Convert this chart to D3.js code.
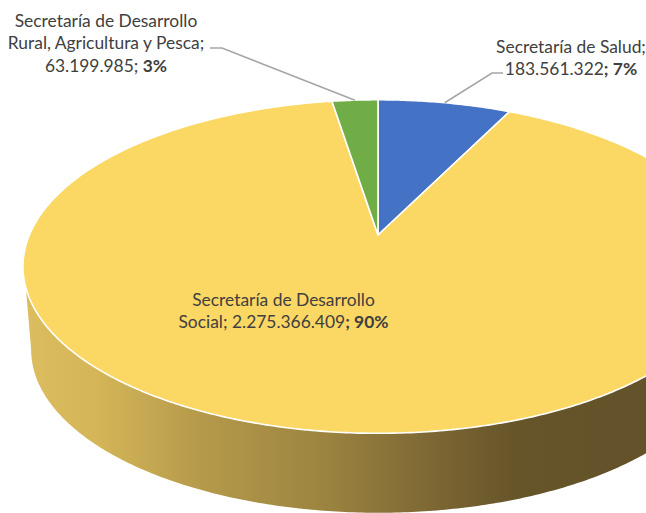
<!DOCTYPE html>
<html>
<head>
<meta charset="utf-8">
<style>
	html, body { margin: 0; padding: 0; background: #fff; overflow: hidden; }
	svg { display: block; }
	text { font-family: Lato, "Open Sans", sans-serif; font-size: 17.4px; fill: #404040; }
</style>
</head>
<body>
<div id="chart"></div>
<script src="https://cdn.jsdelivr.net/npm/d3@7"></script>
<script>
const categories = ["Secretaría de Salud", "Secretaría de Desarrollo Social", "Secretaría de Desarrollo Rural, Agricultura y Pesca"];
const values = [183561322, 2275366409, 63199985];
const sliceColors = ["#4472c4", "#fbd764", "#70ad47"];
const wallStops = [
	[0.03, "#dcbd60"], [0.15, "#d4b557"], [0.31, "#b59a4b"], [0.5, "#9c8440"],
	[0.7, "#776231"], [0.8, "#665529"], [1, "#63522a"]
];

const width = 646, height = 513;

/* tilted disc: centre of the pie, half axes and perspective of the top face */
const cx = 378, cy = 235, radiusX = 348.6, radiusY = 160.8, tilt = 0.1892;
/* the bottom face is the same disc, moved down and slightly smaller */
const depth = 84, shrink = 0.977;

function project(angle, bottom) {
	const u = Math.sin(angle), v = Math.cos(angle), w = 1 + tilt * v;
	const s = bottom ? shrink : 1;
	return [cx + s * radiusX * u / w, cy + (bottom ? depth : 0) - s * radiusY * v / w];
}

function arcPoints(a0, a1, bottom) {
	const n = Math.max(2, Math.ceil(Math.abs(a1 - a0) / 0.01));
	return d3.range(n + 1).map((i) => project(a0 + (a1 - a0) * i / n, bottom));
}

const svg = d3.select("#chart").append("svg")
	.attr("width", width)
	.attr("height", height);

const line = d3.line();
const deg = Math.PI / 180;

const pie = d3.pie().sort(null).value((d) => d);
const slices = pie(values);

/* side wall */
const gradient = svg.append("defs").append("linearGradient")
	.attr("id", "wall")
	.attr("gradientUnits", "userSpaceOnUse")
	.attr("x1", 0).attr("x2", width).attr("y1", 0).attr("y2", 0);
gradient.selectAll("stop").data(wallStops).enter().append("stop")
	.attr("offset", (d) => d[0])
	.attr("stop-color", (d) => d[1]);

const wallTop = arcPoints(-108 * deg, -270 * deg, false);
const wallBottom = arcPoints(-270 * deg, -101 * deg, true);
svg.append("path")
	.attr("d", line(wallTop.concat(wallBottom)) + "Z")
	.attr("fill", "url(#wall)");

/* top face */
svg.append("g").selectAll("path").data(slices).enter().append("path")
	.attr("d", (d) => line([[cx, cy]].concat(arcPoints(d.startAngle, d.endAngle, false))) + "Z")
	.attr("fill", (d, i) => sliceColors[i])
	.attr("stroke", "#fff")
	.attr("stroke-width", 1.6)
	.attr("stroke-linejoin", "round");

/* leader lines */
const leaders = [
	{ slice: 0, elbow: [492, 73], end: [503, 73] },
	{ slice: 2, elbow: [222, 48], end: [210, 48] }
];
svg.append("g").selectAll("path").data(leaders).enter().append("path")
	.attr("d", (d) => {
		const s = slices[d.slice];
		return line([project((s.startAngle + s.endAngle) / 2, false), d.elbow, d.end]);
	})
	.attr("fill", "none")
	.attr("stroke", "#a6a6a6")
	.attr("stroke-width", 1.6);

/* labels */
const total = d3.sum(values);
const number = d3.formatLocale({ decimal: ",", thousands: ".", grouping: [3], currency: ["$", ""] }).format(",d");
const pct = (i) => Math.round(values[i] / total * 100) + "%";

const labels = [
	{ x: 571, y: 47, lines: [[["Secretaría de Salud;", 400]], [[number(values[0]), 400], ["; " + pct(0), 700]]] },
	{ x: 283.5, y: 300, lines: [[["Secretaría de Desarrollo", 400]], [["Social; " + number(values[1]), 400], ["; " + pct(1), 700]]] },
	{ x: 106, y: 21, lines: [[["Secretaría de Desarrollo", 400]], [["Rural, Agricultura y Pesca;", 400]], [[number(values[2]) + "; ", 400], [pct(2), 700]]] }
];
const labelGroup = svg.append("g");
labels.forEach((label) => {
	label.lines.forEach((parts, i) => {
		const t = labelGroup.append("text")
			.attr("x", label.x)
			.attr("y", label.y + i * 22.3)
			.attr("dy", "0.35em")
			.attr("text-anchor", "middle");
		parts.forEach((p) => t.append("tspan").attr("font-weight", p[1]).text(p[0]));
	});
});
</script>
</body>
</html>
